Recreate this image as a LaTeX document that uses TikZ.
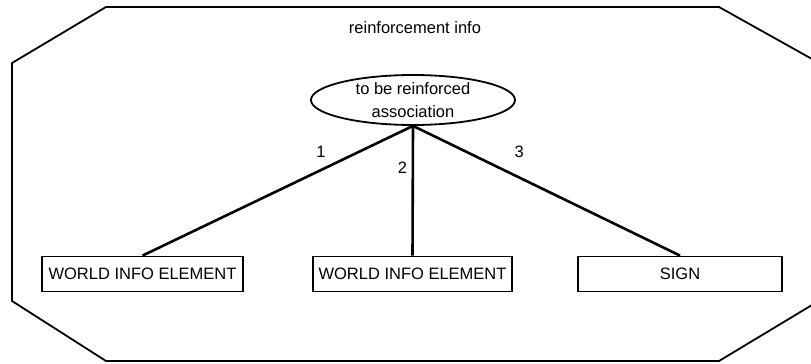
\documentclass[tikz,border=0pt]{standalone}
\usepackage{fontspec}
\setmainfont{Liberation Sans}
\usetikzlibrary{shapes.geometric}

\begin{document}
\begin{tikzpicture}[
        x=1pt, y=-1pt,
        frame/.style={line width=1.8pt, line join=miter},
        assoc/.style={ellipse, draw, line width=1.8pt, minimum width=204pt, minimum height=50pt, inner xsep=0pt, inner ysep=-3pt, align=center, font=\fontsize{16.5}{23}\selectfont},
        infobox/.style={rectangle, draw, line width=1.8pt, minimum height=35pt, font=\fontsize{16.5}{19}\selectfont},
        link/.style={line width=2.6pt},
        edge_label/.style={inner sep=0pt, font=\fontsize{16.5}{19}\selectfont}
    ]

        \useasboundingbox (0,0) rectangle (811,364);

        % outer octagon holding the reinforcement info
        \draw[frame] (106,7) -- (719,7) -- (812,59) -- (812,305) -- (719,361)
            -- (106,361) -- (12,301) -- (12,63) -- cycle;
        \node[edge_label] (title) at (415,28) {reinforcement info};

        \node[assoc] (assoc) at (413,100) {to be reinforced\\association};

        \node[infobox, minimum width=201pt] (world1) at (142.5,274) {WORLD INFO ELEMENT};
        \node[infobox, minimum width=199pt] (world2) at (412.5,274) {WORLD INFO ELEMENT};
        \node[infobox, minimum width=204pt] (sign) at (680,274) {SIGN};

        \draw[link] (assoc.south) -- (world1.north) node[edge_label, pos=0.2, left=32pt] {1};
        \draw[link] (assoc.south) -- (world2.north) node[edge_label, pos=0.32, left=4.5pt] {2};
        \draw[link] (assoc.south) -- (sign.north) node[edge_label, pos=0.2, right=47pt] {3};

    \end{tikzpicture}
\end{document}
